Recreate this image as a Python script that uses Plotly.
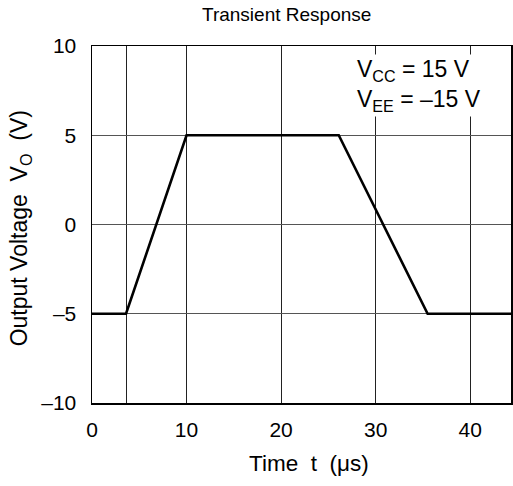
import plotly.graph_objects as go

# Data
time_us = [0, 3.6, 10, 26.1, 35.5, 44.4]
vout = [-5, -5, 5, 5, -5, -5]

x_ticks = [0, 3.6, 10, 20, 30, 40]
x_ticktext = ["0", "", "10", "20", "30", "40"]
y_ticks = [-10, -5, 0, 5, 10]
y_ticktext = ["\u201310", "\u20135", "0", "5", "10"]

FONT = "Liberation Sans, Arial, Helvetica, sans-serif"
W, H = 513, 486
ML, MR, MT, MB = 92, 0, 46, 83

fig = go.Figure()
fig.add_trace(go.Scatter(
    x=time_us, y=vout, mode="lines",
    line=dict(color="black", width=2.6),
    hoverinfo="skip", showlegend=False,
))

fig.update_layout(
    width=W, height=H,
    margin=dict(l=ML, r=MR, t=MT, b=MB, pad=0),
    paper_bgcolor="white", plot_bgcolor="white",
    font=dict(family=FONT, color="black", size=20),
    showlegend=False,
)
fig.update_xaxes(
    range=[0, 44.32], tickmode="array", tickvals=x_ticks, ticktext=x_ticktext,
    showgrid=True, gridcolor="#222", gridwidth=1, zeroline=False,
    showline=True, linecolor="black", linewidth=1.5, mirror=True,
    ticks="outside", ticklen=7, tickcolor="rgba(0,0,0,0)",
    tickfont=dict(size=21, family=FONT),
)
fig.update_yaxes(
    range=[-10, 10], tickmode="array", tickvals=y_ticks, ticktext=y_ticktext,
    showgrid=True, gridcolor="#555", gridwidth=1, zeroline=False,
    showline=True, linecolor="black", linewidth=1.5, mirror=True,
    ticks="outside", ticklen=10, tickcolor="rgba(0,0,0,0)",
    tickfont=dict(size=21, family=FONT),
)

pw = W - ML - MR
ph = H - MT - MB

def px_x(p):
    return (p - ML) / pw

def px_y(p):
    return (H - MB - p) / ph

annotations = [
    dict(text="Transient Response", x=px_x(287), y=px_y(14), xref="paper", yref="paper",
         xanchor="center", yanchor="middle", showarrow=False, font=dict(size=19)),
    dict(text="Time\u00a0\u00a0t\u00a0\u00a0(\u03bcs)", x=px_x(310), y=px_y(463), xref="paper", yref="paper",
         xanchor="center", yanchor="middle", showarrow=False, font=dict(size=22.5)),
    dict(text="Output Voltage\u00a0\u00a0V<sub>O</sub>\u00a0\u00a0(V)", x=px_x(20), y=px_y(228),
         xref="paper", yref="paper", xanchor="center", yanchor="middle", textangle=-90,
         showarrow=False, font=dict(size=23)),
    dict(text="V<sub>CC</sub> = 15 V", x=px_x(356), y=px_y(71), xref="paper", yref="paper",
         xanchor="left", yanchor="middle", showarrow=False, font=dict(size=23),
         bgcolor="white"),
    dict(text="V<sub>EE</sub> = \u201315 V", x=px_x(356), y=px_y(100), xref="paper", yref="paper",
         xanchor="left", yanchor="middle", showarrow=False, font=dict(size=23),
         bgcolor="white"),
]
fig.update_layout(annotations=annotations)

fig.write_html(
    "out.html",
    config={"displayModeBar": False, "staticPlot": True},
    post_script="document.body.style.margin='0';document.body.style.overflow='hidden';",
)
